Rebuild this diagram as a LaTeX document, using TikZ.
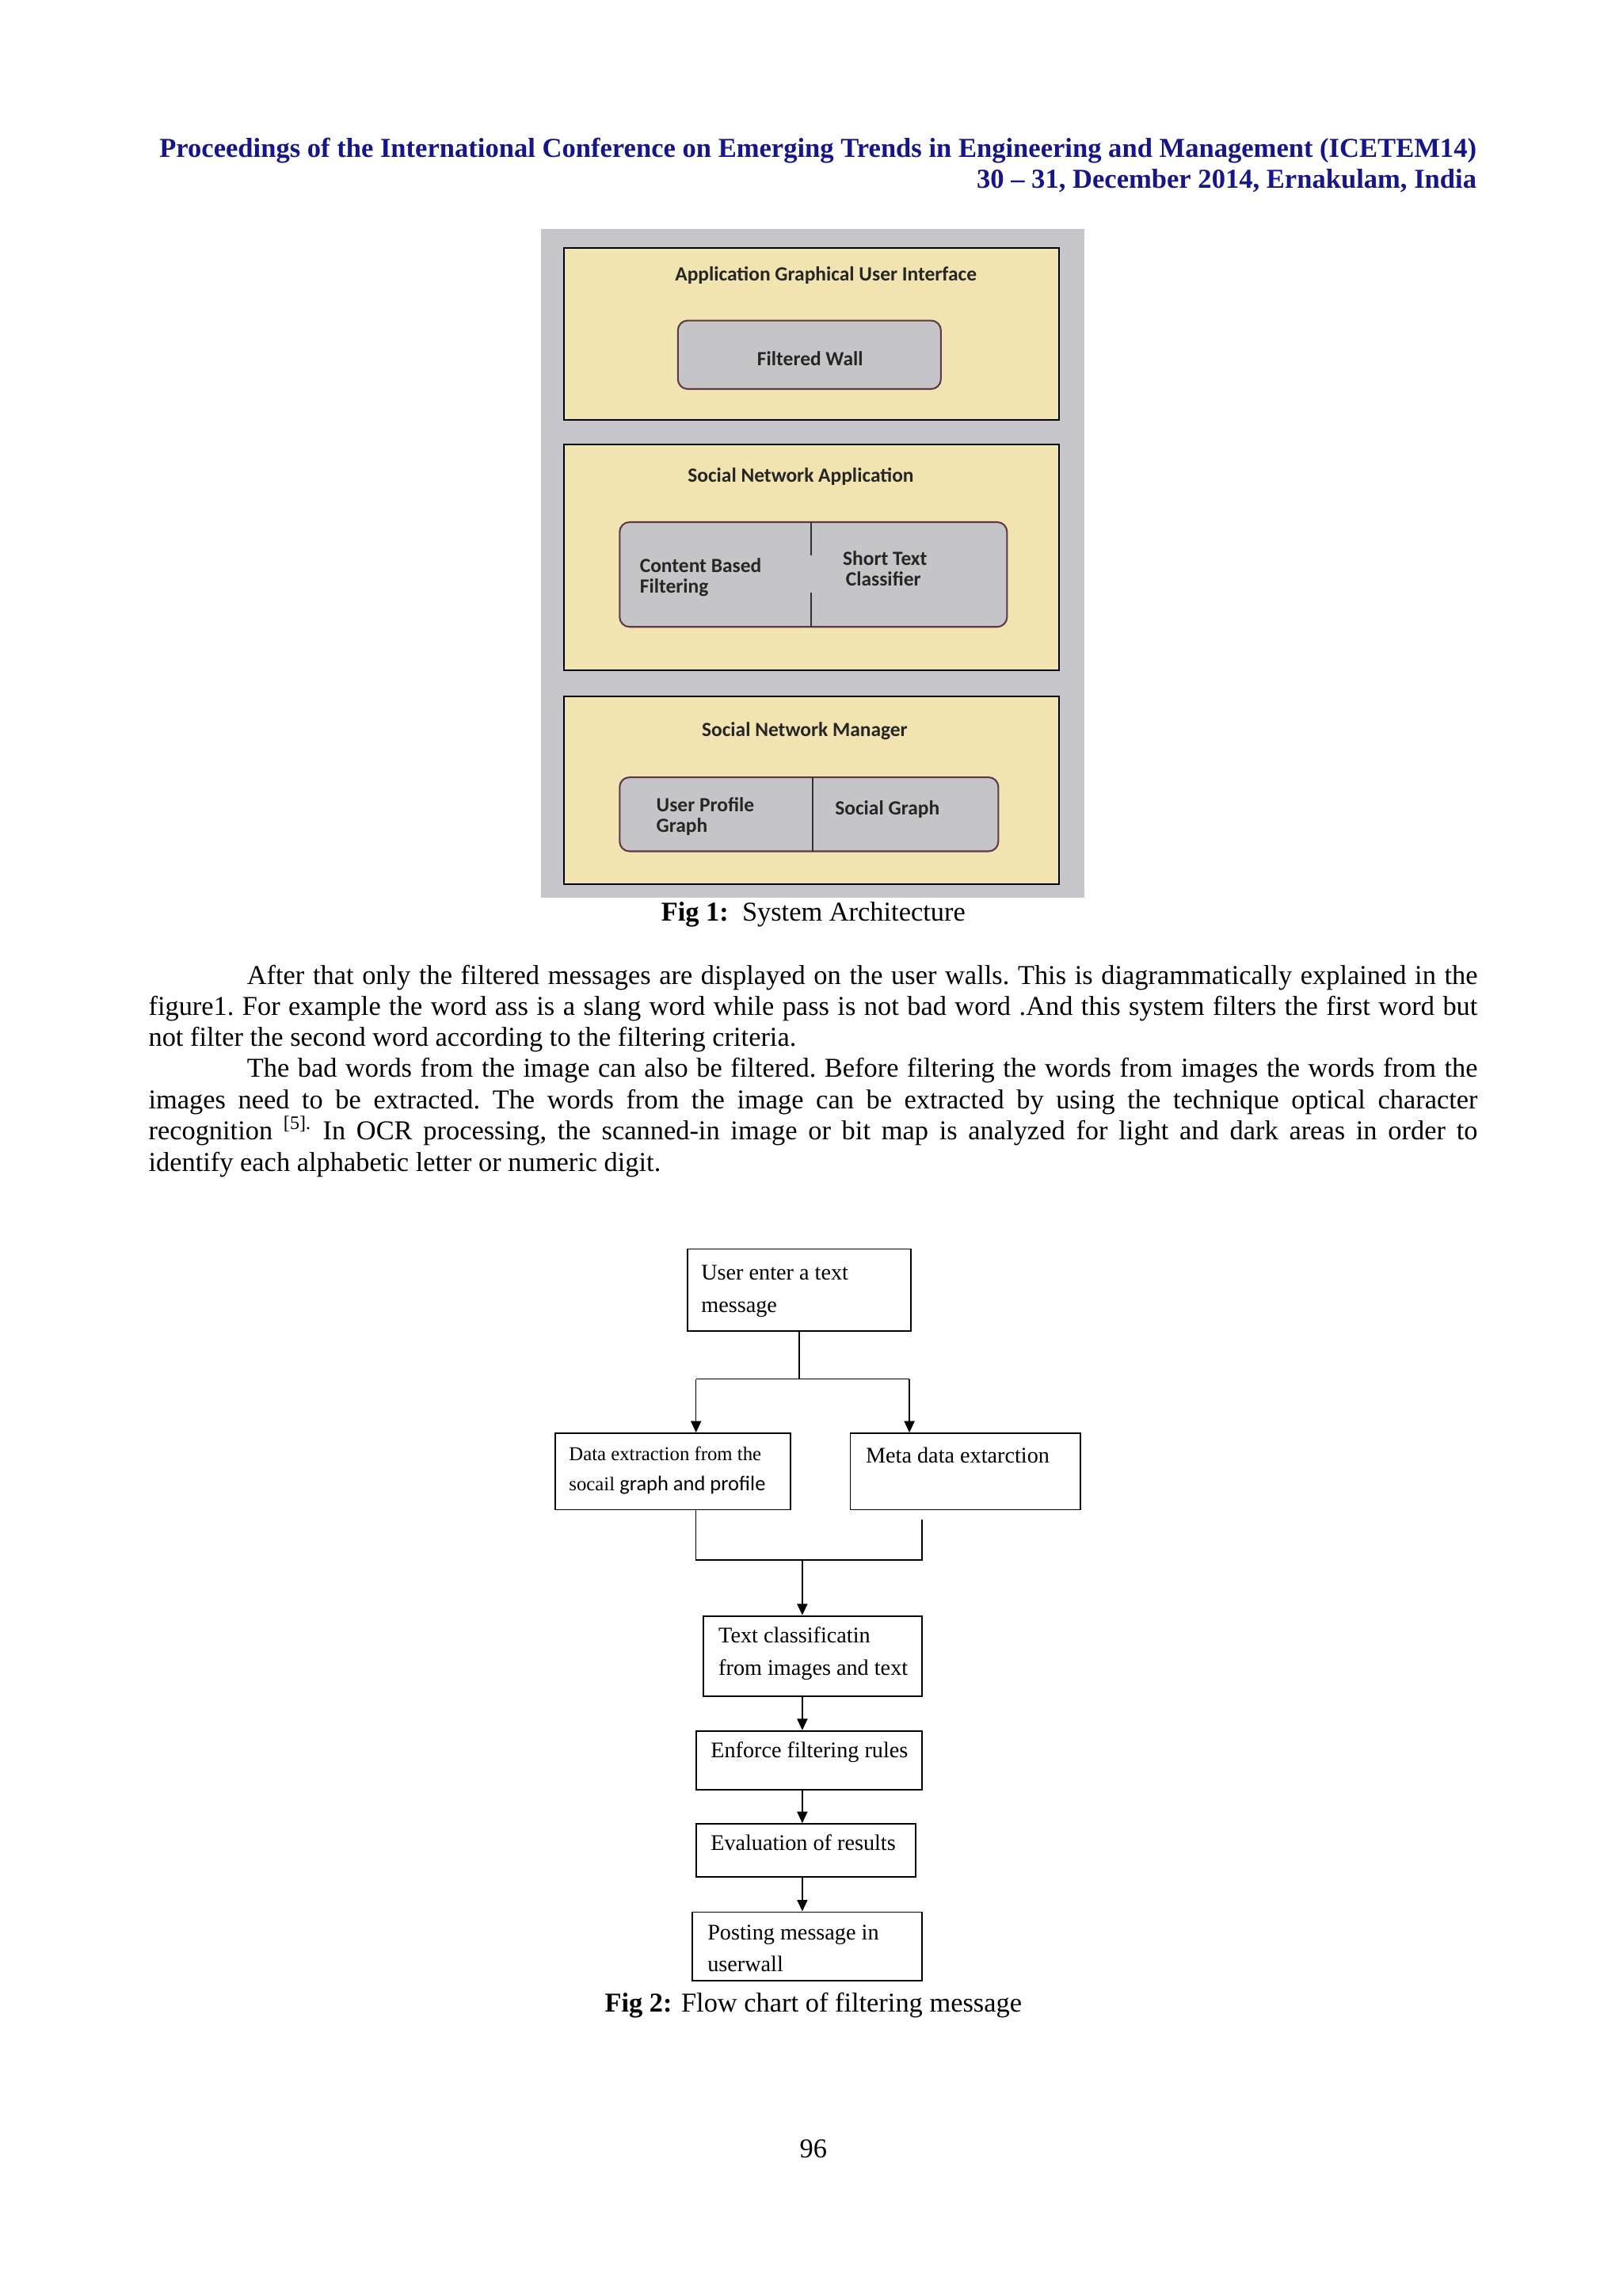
\documentclass[tikz,border=0pt]{standalone}
\usepackage{fontspec}
\setmainfont{Liberation Serif}
\newfontfamily\calfont{Carlito}
\usetikzlibrary{arrows.meta}
\definecolor{navyhead}{RGB}{22,22,138}
\definecolor{figgrey}{RGB}{198,197,202}
\definecolor{figyellow}{RGB}{241,228,176}
\definecolor{innergrey}{RGB}{197,196,199}
\definecolor{compborder}{RGB}{95,55,70}
\newcommand\pxbox[6]{\node[#1, minimum width={(#5-#3)*0.28893pt}, minimum height={(#6-#4)*0.28893pt}] (#2) at ({(#3+#5)/2},{(#4+#6)/2}) {};}
\newcommand\paraspace{\frenchspacing\spaceskip=0.25em plus 0.4em minus 0.12em\relax}
\tikzset{
  header/.style={font=\fontsize{10.05}{12}\selectfont\bfseries, text=navyhead, inner sep=0pt},
  para/.style={font=\fontsize{10}{11.6}\selectfont\paraspace, inner sep=0pt, anchor=base west},
  captext/.style={font=\fontsize{10}{12}\selectfont, inner sep=0pt, anchor=base},
  layer/.style={draw=black, line width=0.6pt, fill=figyellow, inner sep=0pt},
  comp/.style={draw=compborder, line width=0.6pt, fill=innergrey, rounded corners=3.6pt, inner sep=0pt},
  archtext/.style={font=\calfont\bfseries\fontsize{7.4}{8.9}\selectfont, inner sep=0pt, text=black!85},
  divider/.style={draw=black!80, line width=0.4pt},
  fbox/.style={draw=black, line width=0.55pt, inner sep=0pt},
  ftext/.style={font=\fontsize{8.2}{12}\selectfont, inner sep=0pt, anchor=base west},
  conn/.style={draw=black, line width=0.45pt},
  arr/.style={conn, -{Triangle[width=3.8pt,length=4.2pt]}}
}
\begin{document}
\begin{tikzpicture}[x=0.28893pt,y=-0.28893pt]
\useasboundingbox (0,0) rectangle (2060.4,2915.5);
\fill[white] (0,0) rectangle (2060.4,2915.5);

% header
\node[header, anchor=base east] (h1) at (1876,200) {Proceedings of the International Conference on Emerging Trends in Engineering and Management (ICETEM14)};
\node[header, anchor=base east] (h2) at (1876,239) {30 – 31, December 2014, Ernakulam, India};

% ---------------- Fig 1 ----------------
\pxbox{fill=figgrey, inner sep=0pt}{bg}{687}{291}{1377}{1140}
\pxbox{layer}{lay1}{716}{315}{1345}{533}
\pxbox{layer}{lay2}{716}{564}{1345}{851}
\pxbox{layer}{lay3}{716}{884}{1345}{1123}

\node[archtext, anchor=base] (t-agui) at (1049,357) {Application Graphical User Interface};
\pxbox{comp}{fw}{861}{407}{1195}{494}
\node[archtext, anchor=base] (t-fw) at (1029,464) {Filtered Wall};

\node[archtext, anchor=base] (t-sna) at (1017,612) {Social Network Application};
\pxbox{comp}{cbf}{787}{663}{1279}{796}
\draw[divider] (1030,663) -- (1030,705);
\draw[divider] (1030,753) -- (1030,796);
\node[archtext, anchor=base west] (t-cb1) at (812,727) {Content Based};
\node[archtext, anchor=base west] (t-cb2) at (812,753) {Filtering};
\node[archtext, anchor=base] (t-st1) at (1124,718) {Short Text};
\node[archtext, anchor=base] (t-st2) at (1122,744) {Classifier};

\node[archtext, anchor=base] (t-snm) at (1022,935) {Social Network Manager};
\pxbox{comp}{upg}{787}{987}{1268}{1081}
\draw[divider] (1032,987) -- (1032,1081);
\node[archtext, anchor=base west] (t-up1) at (833,1031) {User Profile};
\node[archtext, anchor=base west] (t-up2) at (833,1057) {Graph};
\node[archtext, anchor=base west] (t-sg) at (1060,1035) {Social Graph};

\node[captext] (cap1) at (1033,1170) {\textbf{Fig 1:}\ \ System Architecture};

% ---------------- paragraph ----------------
\node[para] (p1) at (313,1250) {\makebox[451.6pt][s]{After that only the filtered messages are displayed on the user walls. This is diagrammatically explained in the}};
\node[para] (p2) at (188,1289) {\makebox[487.7pt][s]{figure1. For example the word ass is a slang word while pass is not bad word .And this system filters the first word but}};
\node[para] (p3) at (188,1328) {not filter the second word according to the filtering criteria.};
\node[para] (p4) at (313,1368) {\makebox[451.6pt][s]{The bad words from the image can also be filtered. Before filtering the words from images the words from the}};
\node[para] (p5) at (188,1408) {\makebox[487.7pt][s]{images need to be extracted. The words from the image can be extracted by using the technique optical character}};
\node[para] (p6) at (188,1447) {\makebox[487.7pt][s]{recognition \textsuperscript{[5].} In OCR processing, the scanned-in image or bit map is analyzed for light and dark areas in order to}};
\node[para] (p7) at (188,1487) {identify each alphabetic letter or numeric digit.};

% ---------------- Fig 2 ----------------
\pxbox{fbox}{user}{873}{1586}{1157}{1690}
\node[ftext] (t-user1) at (890,1625) {User enter a text};
\node[ftext] (t-user2) at (890,1666) {message};

\pxbox{fbox}{data}{705}{1820}{1004}{1917}
\node[ftext, font=\fontsize{7.2}{12}\selectfont] (t-data1) at (722,1855) {Data extraction from the};
\node[ftext, font=\fontsize{7.2}{12}\selectfont] (t-data2) at (722,1893) {socail {\calfont\fontsize{7.7}{12}\selectfont graph and profile}};

\pxbox{fbox}{meta}{1080}{1820}{1372}{1917}
\node[ftext] (t-meta) at (1099,1858) {Meta data extarction};

\pxbox{fbox}{tc}{893}{2052}{1171}{2154}
\node[ftext] (t-tc1) at (912,2086) {Text classificatin};
\node[ftext] (t-tc2) at (912,2127) {from images and text};

\pxbox{fbox}{enf}{884}{2198}{1171}{2273}
\node[ftext] (t-enf) at (902,2232) {Enforce filtering rules};

\pxbox{fbox}{eva}{884}{2316}{1163}{2383}
\node[ftext] (t-eva) at (902,2350) {Evaluation of results};

\pxbox{fbox}{post}{879}{2428}{1171}{2515}
\node[ftext] (t-post1) at (898,2463) {Posting message in};
\node[ftext] (t-post2) at (898,2503) {userwall};

% connectors
\coordinate (jt) at (1015,1751);
\coordinate (jl) at (884,1751);
\coordinate (jr) at (1155,1751);
\draw[conn] (user.south -| jt) -- (jt);
\draw[conn] (jl) -- (jr);
\draw[arr] (jl) -- (jl |- data.north);
\draw[arr] (jr) -- (jr |- meta.north);

\coordinate (bl) at (884,1981);
\coordinate (br) at (1171,1981);
\coordinate (bm) at (1019,1981);
\coordinate (rs) at (1171,1930);
\draw[conn] (bl |- data.south) -- (bl) -- (br) -- (rs);
\draw[arr] (bm) -- (bm |- tc.north);
\draw[arr] (tc.south -| bm) -- (bm |- enf.north);
\draw[arr] (enf.south -| bm) -- (bm |- eva.north);
\draw[arr] (eva.south -| bm) -- (bm |- post.north);

\node[captext] (cap2) at (1033,2555) {\textbf{Fig 2:} Flow chart of filtering message};

\node[captext] (pnum) at (1033,2740) {96};
\end{tikzpicture}
\end{document}
